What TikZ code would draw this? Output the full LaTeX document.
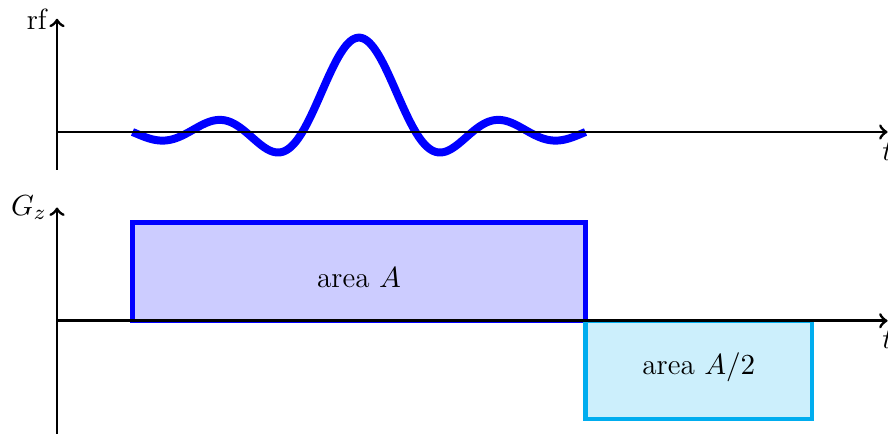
\documentclass[tikz,border=0pt]{standalone}
\usetikzlibrary{arrows}
\begin{document}
\begin{tikzpicture}[x=1cm,y=1cm,
  every node/.style={font=\fontsize{11}{13.5}\selectfont},
  axis/.style={->,line width=1.1pt},
  rfcurve/.style={blue,line width=3pt},
  areaA/.style={draw=blue,fill=blue!20,line width=1.6pt},
  areaB/.style={draw=cyan,fill=cyan!20,line width=1.6pt}]
\useasboundingbox (-0.755,-3.987) rectangle (11.006,1.748);
% rf axes
\draw[rfcurve] plot[domain=-4*pi:4*pi,samples=240] ({4+\x*3/(4*pi)},{1.25*sin(\x r)/\x});
\coordinate (rfO) at (0,0);
\coordinate (rfB) at (0,-0.5);
\coordinate (rfT) at (0,1.5);
\coordinate (rfR) at (11,0);
\draw[axis] (rfO) -- (rfR) node[below] (tlab1) {$t$};
\draw[axis] (rfB) -- (rfT) node[left] (rflab) {rf};
% Gz
\draw[areaA] (1,-2.5) rectangle (7,-1.2);
\draw[areaB] (7,-2.5) rectangle (10,-3.8);
\node (labA) at (4,-2.5+0.57) {area $A$};
\node (labB) at (8.5,-2.5-0.61) {area $A/2$};
\coordinate (gO) at (0,-2.5);
\coordinate (gB) at (0,-4);
\coordinate (gT) at (0,-1);
\coordinate (gR) at (11,-2.5);
\draw[axis] (gO) -- (gR) node[below] (tlab2) {$t$};
\draw[axis] (gB) -- (gT) node[left] (gzlab) {$G_z$};
\end{tikzpicture}
\end{document}
